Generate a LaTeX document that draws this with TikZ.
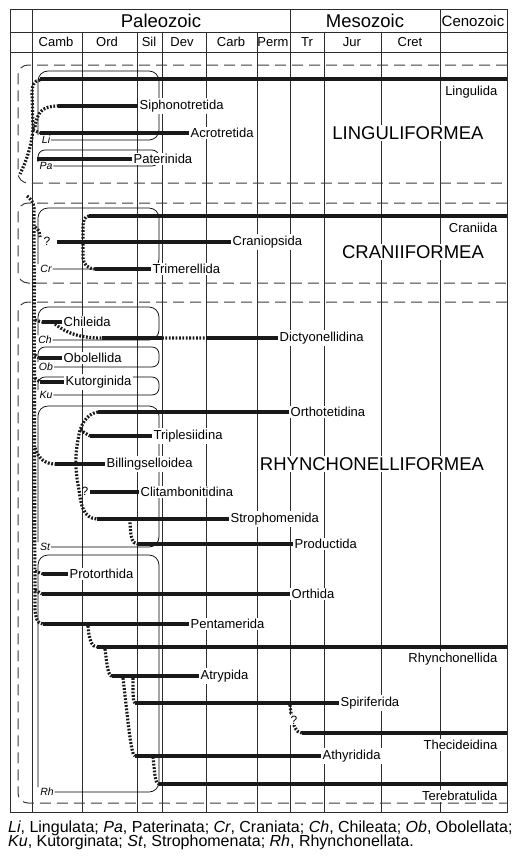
\documentclass[tikz,border=0pt]{standalone}
\usepackage{fontspec}
\setmainfont{Liberation Sans}
\usepackage{tikz}
\usetikzlibrary{calc}
\usepackage{xcolor}
\definecolor{gridgray}{RGB}{45, 45, 45}
\definecolor{dashgray}{RGB}{60, 60, 60}
\definecolor{barblack}{RGB}{25, 25, 25}
\tikzstyle{gridline} = [line width=0.9pt, gridgray]
\tikzstyle{groupbox} = [line width=1pt, dashgray, dash pattern=on 11pt off 6pt, rounded corners=10pt]
\tikzstyle{classbox} = [line width=0.7pt, black, rounded corners=10pt]
\tikzstyle{smallbox} = [classbox, rounded corners=7pt]
\tikzstyle{rangebar} = [line width=3.6pt, barblack]
\tikzstyle{lineage} = [line width=3.2pt, barblack, dash pattern=on 1.8pt off 1.6pt]
\tikzstyle{taxon} = [anchor=west, fill=white, inner sep=1.5pt, font=\fontsize{13}{13}\selectfont]
\tikzstyle{taxonr} = [taxon, anchor=east]
\tikzstyle{cls} = [fill=white, inner sep=0.8pt, font=\fontsize{10.5}{10.5}\selectfont\itshape]
\tikzstyle{grouplabel} = [fill=white, inner sep=1pt, font=\fontsize{18.5}{18.5}\selectfont]
\tikzstyle{era} = [font=\fontsize{18.5}{18.5}\selectfont]
\tikzstyle{period} = [font=\fontsize{13}{13}\selectfont]
\tikzstyle{qmark} = [inner sep=0.5pt, font=\fontsize{12}{12}\selectfont]
\tikzstyle{keyline} = [anchor=base west, inner sep=0pt, font=\fontsize{16}{16}\selectfont]

\begin{document}
\begin{tikzpicture}[x=1pt, y=-1pt]
\useasboundingbox (0,0) rectangle (512,857);

% Time grid
\draw[gridline] (10,9) rectangle (507,812);
\draw[gridline] (10,32) -- (507,32);
\draw[gridline] (10,52) -- (507,52);
\foreach \x in {32,290,440}
    \draw[gridline] (\x,9) -- (\x,32);
\foreach \x in {32,82,137,162,206,257,290,324,381,440}
    \draw[gridline] (\x,32) -- (\x,812);

% Eras and periods
\node[era] (paleo) at (161,21) {Paleozoic};
\node[era] (meso) at (365,21) {Mesozoic};
\node[era, font=\fontsize{15}{15}\selectfont] (ceno) at (473,21) {Cenozoic};
\foreach \x/\p in {56/Camb, 107/Ord, 149/Sil, 182/Dev, 231/Carb, 273/Perm, 307/Tr, 352/Jur, 410/Cret}
    \node[period] (\p) at (\x,42) {\p};

% Subphyla (dashed)
\draw[groupbox] (507,65) -| (18,183) -- (507,183);
\draw[groupbox] (507,203) -| (18,283) -- (507,283);
\draw[groupbox] (507,302) -| (18,803) -- (507,803);

% Classes
\node[cls] (li) at (46,140) {Li};
\draw[classbox] (38,135) |- (159,71) |- (li.east);
\node[cls] (pa) at (46,166) {Pa};
\draw[smallbox] (38,162) |- (159,150) |- (pa.east);
\node[cls] (cr) at (46,269) {Cr};
\draw[classbox] (38,264) |- (159,208) |- (cr.east);
\node[cls] (ch) at (45,340) {Ch};
\draw[classbox] (38,335) |- (159,307) |- (ch.east);
\node[cls] (ob) at (46,367) {Ob};
\draw[smallbox] (38,362) |- (159,347) |- (ob.east);
\node[cls] (ku) at (46,395) {Ku};
\draw[smallbox] (38,390) |- (159,377) |- (ku.east);
\node[cls] (st) at (45,547) {St};
\draw[classbox] (38,542) |- (159,406) |- (st.east);
\node[cls] (rh) at (47,792) {Rh};
\draw[classbox] (38,787) |- (159,555) |- (rh.east);

% Group names
\node[grouplabel] (lingf) at (408,133) {LINGULIFORMEA};
\node[grouplabel] (cranf) at (413,252) {CRANIIFORMEA};
\node[grouplabel] (rhynf) at (372,464) {RHYNCHONELLIFORMEA};

% Taxa
\node[taxonr] (ling) at (499,92) {Lingulida};
\node[taxon] (siph) at (138,106) {Siphonotretida};
\node[taxon] (acro) at (189,133) {Acrotretida};
\node[taxon] (pate) at (132,159) {Paterinida};
\node[taxonr] (crani) at (499,228) {Craniida};
\node[taxon] (cranp) at (231,242) {Craniopsida};
\node[taxon] (trim) at (151,269) {Trimerellida};
\node[taxon] (chil) at (62,322) {Chileida};
\node[taxon] (dict) at (278,338) {Dictyonellidina};
\node[taxon] (obol) at (62,358) {Obolellida};
\node[taxon] (kuto) at (64,382) {Kutorginida};
\node[taxon] (orth) at (289,412) {Orthotetidina};
\node[taxon] (trip) at (152,436) {Triplesiidina};
\node[taxon] (bill) at (105,464) {Billingselloidea};
\node[taxon] (clit) at (139,492) {Clitambonitidina};
\node[taxon] (stro) at (229,519) {Strophomenida};
\node[taxon] (prod) at (293,544) {Productida};
\node[taxon] (prot) at (68,574) {Protorthida};
\node[taxon] (orthi) at (290,594) {Orthida};
\node[taxon] (pent) at (189,624) {Pentamerida};
\node[taxonr] (rhyn) at (499,659) {Rhynchonellida};
\node[taxon] (atry) at (199,676) {Atrypida};
\node[taxon] (spir) at (339,703) {Spiriferida};
\node[taxonr] (thec) at (499,745) {Thecideidina};
\node[taxon] (athy) at (321,756) {Athyridida};
\node[taxonr] (tere) at (499,796) {Terebratulida};

% Ranges
\draw[rangebar] (40,79) -- (507,79);
\draw[rangebar] (58,106) -- (siph.west);
\draw[rangebar] (40,133) -- (acro.west);
\draw[rangebar] (37,159) -- (pate.west);
\draw[rangebar] (89,216) -- (507,216);
\draw[rangebar] (57,242) -- (cranp.west);
\draw[rangebar] (95,269) -- (trim.west);
\draw[rangebar] (42,322) -- (chil.west);
\draw[rangebar] (102,338) -- (162,338);
\draw[rangebar] (206,338) -- (dict.west);
\draw[rangebar] (39,358) -- (obol.west);
\draw[rangebar] (40,382) -- (kuto.west);
\draw[rangebar] (98,412) -- (orth.west);
\draw[rangebar] (90,436) -- (trip.west);
\draw[rangebar] (55,464) -- (bill.west);
\draw[rangebar] (90,492) -- (clit.west);
\draw[rangebar] (97,519) -- (stro.west);
\draw[rangebar] (137,544) -- (prod.west);
\draw[rangebar] (43,574) -- (prot.west);
\draw[rangebar] (42,594) -- (orthi.west);
\draw[rangebar] (43,624) -- (pent.west);
\draw[rangebar] (97,647) -- (507,647);
\draw[rangebar] (112,676) -- (atry.west);
\draw[rangebar] (135,703) -- (spir.west);
\draw[rangebar] (302,733) -- (507,733);
\draw[rangebar] (135,756) -- (athy.west);
\draw[rangebar] (159,784) -- (507,784);

% Lineages
\draw[lineage] (40,80) to[out=180,in=90] (32,92) -- (33,128) .. controls (32,145) and (26,162) .. (20,174);
\draw[lineage] (35,127) .. controls (37,112) and (43,106) .. (58,106);
\draw[lineage] (33,130) -- (40,133);
\draw[lineage] (27,196) to[out=-40,in=95] (34,208) -- (35,610) to[out=-85,in=180] (43,624);
\draw[lineage] (35,227) to[out=-30,in=95] (40,237);
\draw[lineage] (89,216) to[out=180,in=90] (83,226) -- (83,258) to[out=-90,in=180] (95,269);
\draw[lineage] (35,320) -- (42,322);
\draw[lineage] (55,324) .. controls (66,333) and (80,338) .. (102,338) (162,338) -- (206,338);
\draw[lineage] (35,355) -- (39,358);
\draw[lineage] (35,378) -- (40,382);
\draw[lineage] (98,412) .. controls (86,414) and (80,425) .. (78,440) .. controls (75,455) and (75,470) .. (79,490) .. controls (81,505) and (83,518) .. (97,519);
\draw[lineage] (80,430) -- (90,436);
\draw[lineage] (35,448) .. controls (38,458) and (45,464) .. (55,464);
\draw[lineage] (130,519) .. controls (130,535) and (132,544) .. (137,544);
\draw[lineage] (35,571) -- (43,574);
\draw[lineage] (35,590) -- (42,594);
\draw[lineage] (88,626) .. controls (89,640) and (92,647) .. (97,647);
\draw[lineage] (105,649) .. controls (107,665) and (108,676) .. (112,676);
\draw[lineage] (123,678) .. controls (128,720) and (131,756) .. (135,756);
\draw[lineage] (133,678) .. controls (133,695) and (133,703) .. (135,703);
\draw[lineage] (153,757) .. controls (155,775) and (155,784) .. (159,784);
\draw[lineage] (290,705) .. controls (292,725) and (296,733) .. (302,733);

% Question marks
\node[qmark, fill=white] (q1) at (47,241) {?};
\node[qmark] (q2) at (85,491) {?};
\node[qmark, fill=white] (q3) at (294,720) {?};

% Key
\node[keyline] (key1) at (8,832) {\textit{Li}, Lingulata; \textit{Pa}, Paterinata; \textit{Cr}, Craniata; \textit{Ch}, Chileata; \textit{Ob}, Obolellata;};
\node[keyline] (key2) at (8,846.5) {\textit{Ku}, Kutorginata; \textit{St}, Strophomenata; \textit{Rh}, Rhynchonellata.};

\end{tikzpicture}
\end{document}
